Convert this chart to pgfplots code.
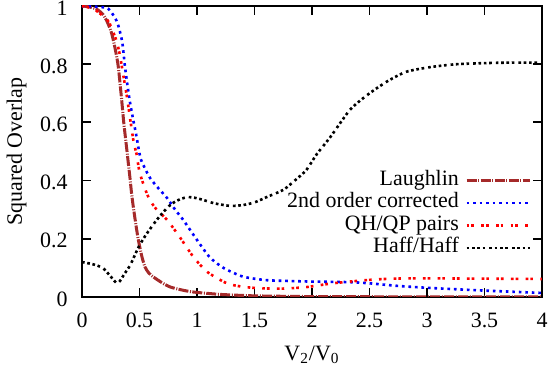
\documentclass[border=0pt]{standalone}
\usepackage{fontspec}
\setmainfont{Liberation Serif}
\usepackage{pgfplots}
\pgfplotsset{compat=1.18}
\definecolor{gpbrown}{RGB}{165,42,42}
\begin{document}
\fontsize{11}{13}\selectfont
\begin{tikzpicture}[font=\fontsize{11}{13}\selectfont]
\begin{axis}[
  scale only axis,
  width=230bp, height=145.5bp,
  xmin=0, xmax=4, ymin=0, ymax=1,
  xtick={0,0.5,...,4}, ytick={0,0.2,...,1},
  tick align=inside,
  major tick length=4.5bp,
  axis line style={line width=0.9bp},
  every tick/.style={line width=0.9bp, black},
  /pgf/number format/assume math mode=true,
  every tick label/.append style={font=\fontsize{11}{13}\selectfont},
  xticklabel style={yshift=-4.3bp},
  yticklabel style={xshift=-3.4bp, yshift=-1bp},
  xlabel={V\textsubscript{2}/V\textsubscript{0}},
  ylabel={Squared Overlap},
  xlabel style={font=\fontsize{11}{13}\selectfont, at={(axis description cs:0.5,0)}, anchor=base, yshift=-31.75bp},
  ylabel style={font=\fontsize{11}{13}\selectfont, at={(axis description cs:0,0.5)}, anchor=center, yshift=32.7bp},
  legend cell align=right,
  legend plot pos=right,
  legend style={draw=none, fill=none, at={(axis cs:3.91,0.44)}, anchor=north east,
    inner sep=0pt, row sep=-0.1bp, column sep=0bp, font=\fontsize{11}{13}\selectfont,
    nodes={inner ysep=0pt, inner xsep=3.2bp, text height=8bp, text depth=3.33bp}},
  legend image code/.code={\draw (0bp,0bp) -- (31.5bp,0bp);},
]
\addplot[gpbrown, line width=1.5bp, smooth, tension=0.4,
  dash pattern=on 5bp off 0.83bp on 0.5bp off 0.67bp] coordinates {
(0,1.0) (0.05,0.998) (0.1,0.993) (0.14,0.986) (0.185,0.97) (0.22,0.945)
(0.258,0.906) (0.29,0.85) (0.316,0.79) (0.345,0.677) (0.363,0.60)
(0.383,0.53) (0.40,0.47) (0.417,0.41) (0.43,0.36) (0.446,0.31)
(0.47,0.245) (0.49,0.196) (0.52,0.14) (0.548,0.103) (0.58,0.083)
(0.62,0.069) (0.7,0.048) (0.77,0.034) (0.87,0.024) (0.97,0.017)
(1.2,0.009) (1.5,0.004) (2,0.0015) (3,0.0005) (4,0.0002)};
\addlegendentry{Laughlin}
\addplot[blue, line width=1.3bp, smooth, tension=0.4,
  dash pattern=on 1.33bp off 1.92bp] coordinates {
(0,1.0) (0.1,0.998) (0.2,0.995) (0.23,0.99) (0.27,0.97) (0.31,0.94)
(0.35,0.876) (0.374,0.79) (0.41,0.687) (0.44,0.62) (0.47,0.56)
(0.49,0.515) (0.51,0.475) (0.55,0.44) (0.59,0.41) (0.65,0.38)
(0.74,0.34) (0.81,0.30) (0.88,0.265) (1.0,0.196) (1.11,0.137)
(1.23,0.10) (1.4,0.07) (1.6,0.058) (1.8,0.055) (2.0,0.053)
(2.33,0.051) (2.5,0.047) (2.75,0.038) (3.03,0.031) (3.5,0.022) (4,0.014)};
\addlegendentry{2nd order corrected}
\addplot[red, line width=1.3bp, smooth, tension=0.4,
  dash pattern=on 1.33bp off 1bp on 1.33bp off 3.67bp] coordinates {
(0,1.0) (0.1,0.99) (0.2,0.96) (0.24,0.94) (0.3,0.88) (0.33,0.83)
(0.36,0.76) (0.39,0.69) (0.446,0.54) (0.475,0.49) (0.5,0.43)
(0.55,0.37) (0.59,0.333) (0.65,0.30) (0.74,0.265) (0.85,0.206)
(0.97,0.137) (1.09,0.086) (1.26,0.047) (1.4,0.035) (1.55,0.03)
(1.75,0.029) (1.95,0.034) (2.18,0.047) (2.47,0.058) (2.7,0.063)
(3,0.064) (3.5,0.063) (4,0.062)};
\addlegendentry{QH/QP pairs}
\addplot[black, line width=1.3bp, smooth, tension=0.4,
  dash pattern=on 1.33bp off 1.33bp on 1.33bp off 1.33bp on 1.33bp off 1.33bp on 1.33bp off 2bp] coordinates {
(0,0.12) (0.1,0.112) (0.18,0.10) (0.24,0.075) (0.3,0.048) (0.33,0.055)
(0.37,0.08) (0.42,0.11) (0.49,0.17) (0.55,0.21) (0.65,0.265)
(0.75,0.31) (0.82,0.33) (0.91,0.343) (0.98,0.341) (1.05,0.334)
(1.15,0.322) (1.29,0.313) (1.4,0.316) (1.5,0.325) (1.61,0.344)
(1.75,0.368) (1.85,0.40) (1.95,0.436) (2.04,0.49) (2.16,0.55)
(2.33,0.643) (2.48,0.694) (2.65,0.74) (2.82,0.774) (3.03,0.79)
(3.26,0.80) (3.63,0.805) (4,0.805)};
\addlegendentry{Haff/Haff}
\end{axis}
\pgfresetboundingbox
\path (-41bp,-39bp) rectangle (233.5bp,148.5bp);
\end{tikzpicture}
\end{document}
